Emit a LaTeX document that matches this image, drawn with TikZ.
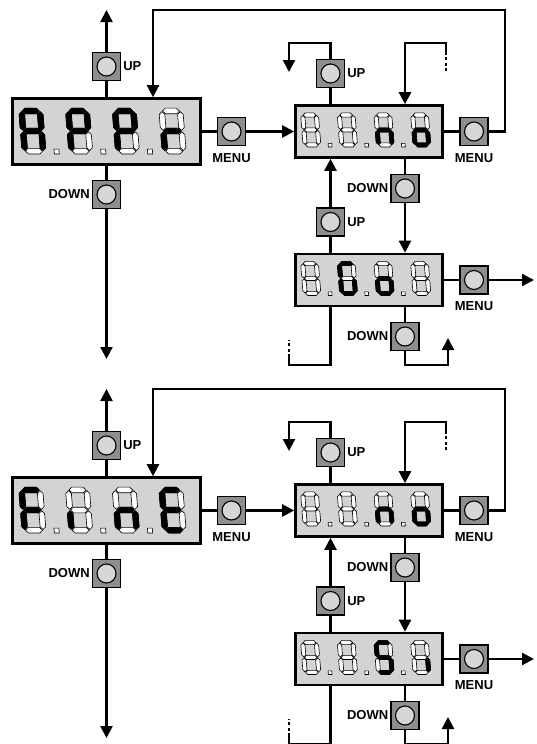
\documentclass[tikz,border=0pt]{standalone}
\usepackage{fontspec}
\setmainfont{Liberation Sans}
\usetikzlibrary{arrows.meta,positioning}

\definecolor{lcdgray}{HTML}{D3D3D3}
\definecolor{btngray}{HTML}{8E8E8E}
\definecolor{keygray}{HTML}{D6D6D6}

% seven segment outlines (digit is 1.05 wide, 2.3 high)
\newcommand\sega{(0.04,2.3) -- (0.2,2.46) -- (0.85,2.46) -- (1.01,2.3) -- (0.85,2.14) -- (0.2,2.14) -- cycle}
\newcommand\segb{(1.05,1.19) -- (1.21,1.35) -- (1.21,2.1) -- (1.05,2.26) -- (0.89,2.1) -- (0.89,1.35) -- cycle}
\newcommand\segc{(1.05,0.04) -- (1.21,0.2) -- (1.21,0.95) -- (1.05,1.11) -- (0.89,0.95) -- (0.89,0.2) -- cycle}
\newcommand\segd{(0.04,0) -- (0.2,0.16) -- (0.85,0.16) -- (1.01,0) -- (0.85,-0.16) -- (0.2,-0.16) -- cycle}
\newcommand\sege{(0,0.04) -- (0.16,0.2) -- (0.16,0.95) -- (0,1.11) -- (-0.16,0.95) -- (-0.16,0.2) -- cycle}
\newcommand\segf{(0,1.19) -- (0.16,1.35) -- (0.16,2.1) -- (0,2.26) -- (-0.16,2.1) -- (-0.16,1.35) -- cycle}
\newcommand\segg{(0.04,1.15) -- (0.2,1.31) -- (0.85,1.31) -- (1.01,1.15) -- (0.85,0.99) -- (0.2,0.99) -- cycle}
\newcommand\segx{(0,0)}

% one digit: #1 index, #2 pitch, #3 lit segments
\newcommand\lcddigit[3]{%
  \begin{scope}[shift={({#1*#2},0)}]
    \foreach \sg in {a,b,c,d,e,f,g} \filldraw[segoff] \csname seg\sg\endcsname;
    \foreach \sg in {#3} \filldraw[segon] \csname seg\sg\endcsname;
  \end{scope}}

% four digit readout: #1 origin, #2 scale, #3 pitch, #4-#7 lit segments
\newcommand\lcd[7]{%
  \begin{scope}[shift={#1}, yscale=-1, scale=#2, xslant=0.08]
    \lcddigit{0}{#3}{#4}
    \lcddigit{1}{#3}{#5}
    \lcddigit{2}{#3}{#6}
    \lcddigit{3}{#3}{#7}
    \foreach \k in {0,1,2}
      \filldraw[segoff] ({\k*#3+0.68*#3-0.14},-0.16) rectangle ++(0.28,0.28);
  \end{scope}}

\begin{document}
\begin{tikzpicture}[
    x=1pt, y=-1pt,
    line/.style={line width=2.3pt},
    arr/.style={line, -{Triangle[length=12pt,width=12pt]}},
    broken/.style={line, dash pattern=on 3pt off 2.5pt},
    bigdisp/.style={draw, line width=2.6pt, fill=lcdgray, minimum width=188pt, minimum height=66pt, inner sep=0pt},
    smalldisp/.style={draw, line width=2.6pt, fill=lcdgray, minimum width=147pt, minimum height=52pt, inner sep=0pt},
    btn/.style={draw, line width=1.1pt, fill=btngray, minimum size=28pt, inner sep=0pt,
      path picture={\filldraw[fill=keygray, line width=1.1pt] (path picture bounding box.center) circle (9.5pt);}},
    lbl/.style={font=\fontsize{13}{15}\selectfont\bfseries, inner sep=0pt},
    segoff/.style={fill=white, draw=black, line width=0.6pt},
    segon/.style={fill=black, draw=black, line width=0.6pt}
  ]
  \useasboundingbox (0,0) rectangle (536,744);
  \clip (0,0) rectangle (536,744);

  \foreach \r/\dy in {1/0, 2/379} {
    \begin{scope}[shift={(0,\dy)}]
      % main display and its keys
      \node[bigdisp] (disp\r) at (106.5,131.5) {};
      \node[btn] (up\r) at (106.5,66.5) {};
      \node[btn] (down\r) at (106.5,194.5) {};
      \node[btn] (menu\r) at (231.5,131.5) {};
      \node[lbl, right=2pt of up\r] (upl\r) {UP};
      \node[lbl, left=2pt of down\r] (downl\r) {DOWN};
      \node[lbl, below=7pt of menu\r] (menul\r) {MENU};

      % "no" display
      \node[smalldisp] (no\r) at (369,131.5) {};
      \node[btn] (noup\r) at (330.5,73.5) {};
      \node[btn] (nomenu\r) at (474,131.5) {};
      \node[btn] (nodown\r) at (405,188.5) {};
      \node[lbl, right=2pt of noup\r] (noupl\r) {UP};
      \node[lbl, below=7pt of nomenu\r] (nomenul\r) {MENU};
      \node[lbl, left=2pt of nodown\r] (nodownl\r) {DOWN};

      % choice display
      \node[smalldisp] (sel\r) at (369,280) {};
      \node[btn] (selup\r) at (330.5,222) {};
      \node[btn] (selmenu\r) at (474,280) {};
      \node[btn] (seldown\r) at (405,336.5) {};
      \node[lbl, right=2pt of selup\r] (selupl\r) {UP};
      \node[lbl, below=7pt of selmenu\r] (selmenul\r) {MENU};
      \node[lbl, left=2pt of seldown\r] (seldownl\r) {DOWN};

      % free ends and corners
      \coordinate (top\r) at (106.5,10);
      \coordinate (bot\r) at (106.5,359);
      \coordinate (ret\r) at (505,10);
      \coordinate (upc\r) at (289,43);
      \coordinate (upe\r) at (289,72);
      \coordinate (dashe\r) at (446,71);
      \coordinate (dashm\r) at (446,52);
      \coordinate (dashc\r) at (446,43);
      \coordinate (out\r) at (534,280);
      \coordinate (dlc\r) at (289,365);
      \coordinate (dlm\r) at (289,357);
      \coordinate (dle\r) at (289,340);
      \coordinate (drc\r) at (448,365);
      \coordinate (dre\r) at (448,338);

      % connections
      \draw[line] (disp\r) -- (up\r);
      \draw[arr] (up\r) -- (top\r);
      \draw[line] (disp\r) -- (down\r);
      \draw[arr] (down\r) -- (bot\r);
      \draw[line] (disp\r) -- (menu\r);
      \draw[arr] (menu\r) -- (no\r);
      \draw[arr] (nomenu\r) -| (ret\r) -| ([xshift=46.5pt]disp\r.north);
      \draw[line] (no\r) -- (nomenu\r);

      \draw[line] (no\r.north -| noup\r) -- (noup\r);
      \draw[arr] (noup\r) |- (upc\r) -- (upe\r);
      \draw[broken] (dashe\r) -- (dashm\r);
      \draw[arr] (dashm\r) -- (dashc\r) -| ([xshift=36pt]no\r.north);

      \draw[line] (no\r.south -| nodown\r) -- (nodown\r);
      \draw[arr] (nodown\r) -- (nodown\r |- sel\r.north);
      \draw[line] (sel\r.north -| selup\r) -- (selup\r);
      \draw[arr] (selup\r) -- (selup\r |- no\r.south);
      \draw[line] (sel\r) -- (selmenu\r);
      \draw[arr] (selmenu\r) -- (out\r);

      \draw[line] (sel\r.south -| selup\r) |- (dlc\r) -- (dlm\r);
      \draw[broken] (dlm\r) -- (dle\r);
      \draw[line] (sel\r.south -| seldown\r) -- (seldown\r);
      \draw[arr] (seldown\r) |- (drc\r) -- (dre\r);
    \end{scope}
  }

  % readouts
  \lcd{([shift={(-81.7,19.7)}]disp1.center)}{17.5}{2.67}{a,b,c,e,f,g}{a,b,e,f,g}{a,b,e,f,g}{e,g}
  \lcd{([shift={(-63.9,13.4)}]no1.center)}{13}{2.82}{x}{x}{c,e,g}{c,d,e,g}
  \lcd{([shift={(-63.9,13.4)}]sel1.center)}{13}{2.82}{x}{a,c,d,e,f}{c,d,e,g}{x}
  \lcd{([shift={(-81.7,19.7)}]disp2.center)}{17.5}{2.67}{a,e,f,g}{e}{c,e,g}{a,d,e,f,g}
  \lcd{([shift={(-63.9,13.4)}]no2.center)}{13}{2.82}{x}{x}{c,e,g}{c,d,e,g}
  \lcd{([shift={(-63.9,13.4)}]sel2.center)}{13}{2.82}{x}{x}{a,c,d,f,g}{c}
\end{tikzpicture}
\end{document}
